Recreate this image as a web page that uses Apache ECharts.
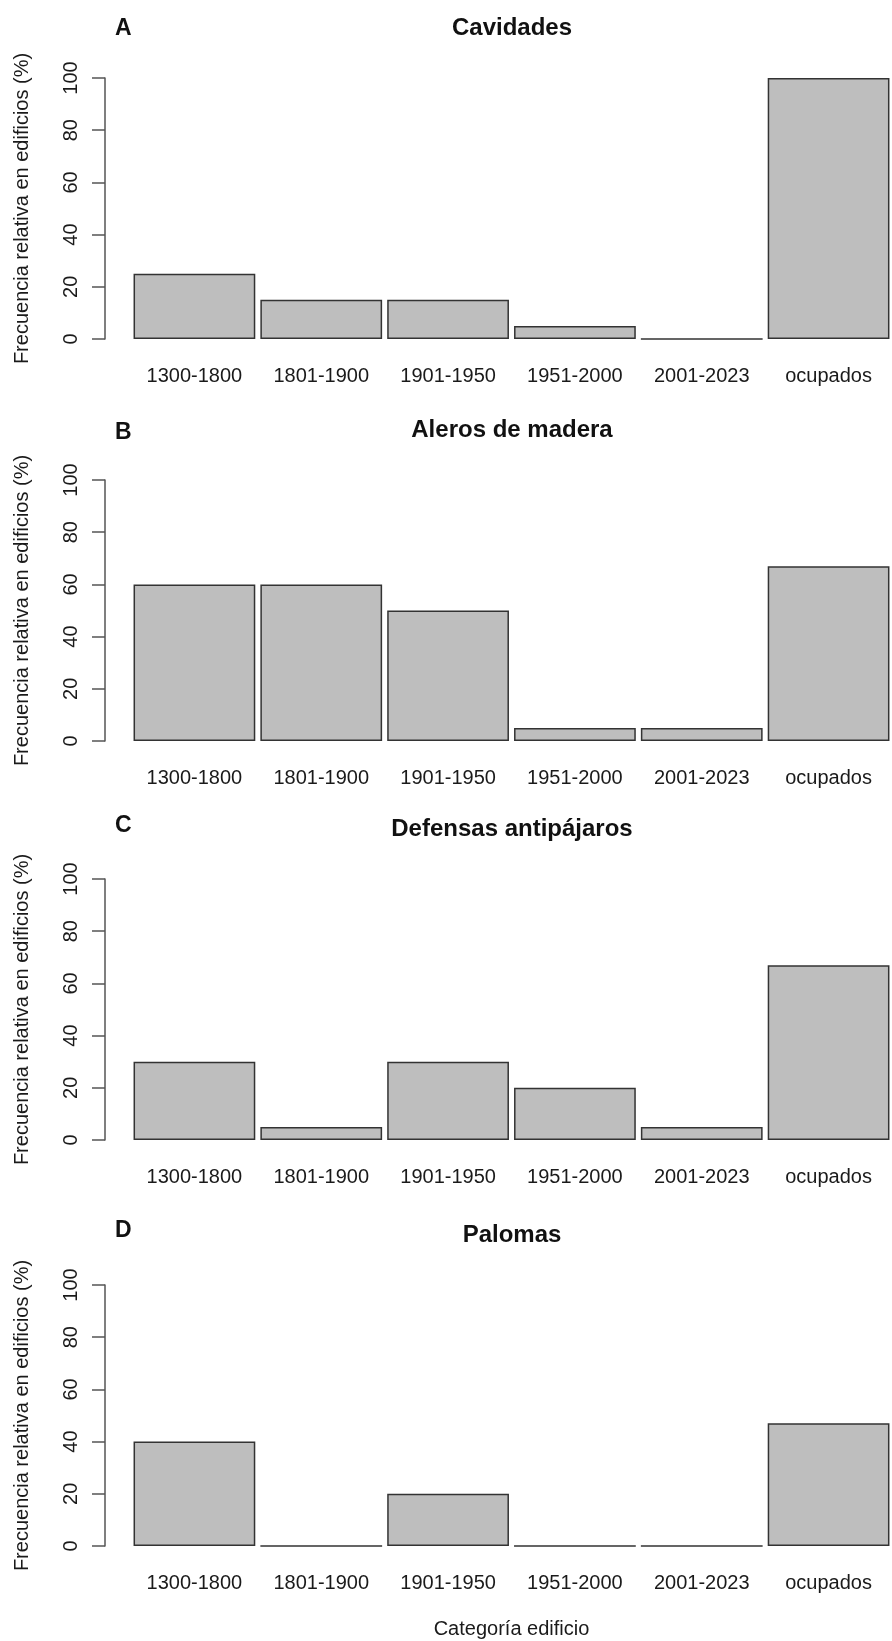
<!DOCTYPE html>
<html>
<head>
<meta charset="utf-8">
<script src="https://cdn.jsdelivr.net/npm/echarts@6/dist/echarts.min.js"></script>
<style>
  html, body { margin: 0; padding: 0; background: #fff; }
  #chart { width: 892px; height: 1641px; }
</style>
</head>
<body>
<div id="chart"></div>
<script>
// categorias del eje x
const categorias = ["1300-1800", "1801-1900", "1901-1950", "1951-2000", "2001-2023", "ocupados"];

// frecuencia relativa (%) por panel
const cavidades = [25, 15, 15, 5, 0, 100];
const alerosMadera = [60, 60, 50, 5, 5, 67];
const defensasAntipajaros = [30, 5, 30, 20, 5, 67];
const palomas = [40, 0, 20, 0, 0, 47];

const titulos = ["Cavidades", "Aleros de madera", "Defensas antipájaros", "Palomas"];
const letras = ["A", "B", "C", "D"];
const yMin = 0;
const yMax = 100;
const yInterval = 20;

const paneles = [cavidades, alerosMadera, defensasAntipajaros, palomas];

// layout (px) de cada panel
const panelTop = [78, 480, 879, 1285];
const panelHeight = 261;
const letraY = [29.5, 433, 826, 1231.5];

const font = "'Liberation Sans', Arial, sans-serif";

function initChart() {
  const myChart = echarts.init(document.getElementById("chart"), null, { renderer: "canvas" });

  const grid = [];
  const xAxis = [];
  const yAxis = [];
  const series = [];
  const title = [];
  const graphic = [];

  paneles.forEach((datos, i) => {
    grid.push({
      left: 131,
      width: 762,
      top: panelTop[i],
      height: panelHeight,
    });
    xAxis.push({
      type: "category",
      gridIndex: i,
      data: categorias,
      axisLine: { show: false },
      axisTick: { show: false },
      axisLabel: {
        margin: 27,
        color: "#1a1a1a",
        fontSize: 20,
        fontFamily: font,
        interval: 0,
      },
      name: i === 3 ? "Categoría edificio" : "",
      nameLocation: "middle",
      nameGap: 73,
      nameTextStyle: { color: "#1a1a1a", fontSize: 20, fontFamily: font },
    });
    yAxis.push({
      type: "value",
      gridIndex: i,
      min: yMin,
      max: yMax,
      interval: yInterval,
      offset: 26,
      splitLine: { show: false },
      axisLine: { show: true, lineStyle: { color: "#555", width: 1.5 } },
      axisTick: { show: true, length: 13, lineStyle: { color: "#555", width: 1.5 } },
      axisLabel: {
        rotate: 90,
        margin: 24,
        color: "#1a1a1a",
        fontSize: 20,
        fontFamily: font,
      },
      name: "Frecuencia relativa en edificios (%)",
      nameLocation: "middle",
      nameRotate: 90,
      nameGap: 73,
      nameTextStyle: { color: "#1a1a1a", fontSize: 20, fontFamily: font },
    });
    series.push({
      type: "bar",
      xAxisIndex: i,
      yAxisIndex: i,
      data: datos,
      barCategoryGap: "4%",
      itemStyle: {
        color: "#bebebe",
        borderColor: "#333",
        borderWidth: 1.5,
      },
      silent: true,
    });
    title.push({
      text: titulos[i],
      left: 512,
      top: panelTop[i] - 50,
      textAlign: "center",
      textVerticalAlign: "middle",
      padding: 0,
      textStyle: { fontSize: 24, fontWeight: "bold", color: "#111", fontFamily: font },
    });
    graphic.push({
      type: "text",
      left: 115,
      top: letraY[i] - 12,
      style: {
        text: letras[i],
        fontSize: 23,
        fontWeight: "bold",
        fill: "#111",
        font: "bold 23px " + font,
      },
    });
  });

  myChart.setOption({
    animation: false,
    backgroundColor: "#fff",
    title,
    grid,
    xAxis,
    yAxis,
    series,
    graphic,
  });
}

initChart();
</script>
</body>
</html>
